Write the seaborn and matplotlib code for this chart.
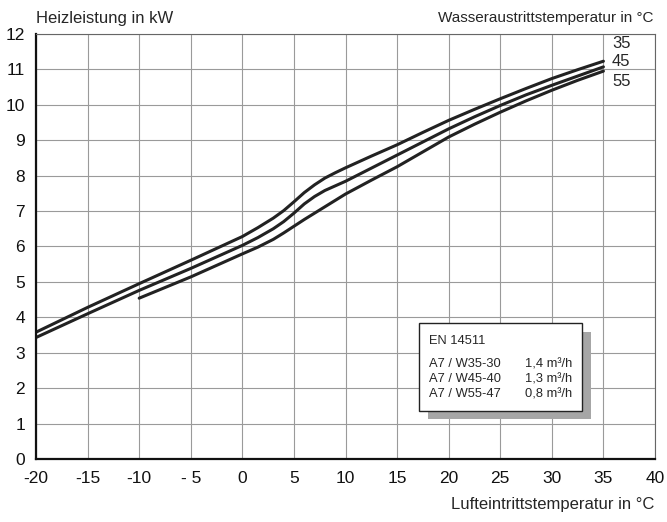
import pandas as pd
import seaborn as sns
import matplotlib
matplotlib.use("Agg")
import matplotlib.pyplot as plt
from matplotlib.patches import Rectangle
from matplotlib.ticker import MultipleLocator

# air inlet temp (x) vs heating output (kW)
x_35 = [-20, -15, -10, -5, 0, 1.5, 3, 4, 5, 6, 7, 8, 9, 10, 12.5, 15, 17.5, 20, 22.5, 25, 27.5, 30, 32.5, 35]
kw_35 = [3.58, 4.28, 4.95, 5.61, 6.28, 6.53, 6.80, 7.01, 7.26, 7.52, 7.74, 7.93, 8.08, 8.22,
         8.55, 8.87, 9.22, 9.56, 9.87, 10.17, 10.46, 10.74, 10.99, 11.23]
x_45 = [-20, -15, -10, -5, 0, 1.5, 3, 4, 5, 6, 7, 8, 9, 10, 12.5, 15, 17.5, 20, 22.5, 25, 27.5, 30, 32.5, 35]
kw_45 = [3.43, 4.10, 4.76, 5.38, 6.03, 6.25, 6.50, 6.70, 6.94, 7.20, 7.41, 7.58, 7.71, 7.84,
         8.21, 8.58, 8.95, 9.32, 9.66, 9.98, 10.28, 10.55, 10.81, 11.07]
x_55 = [-10, -5, 0, 1.5, 3, 4, 5, 6, 7, 8, 9, 10, 12.5, 15, 17.5, 20, 22.5, 25, 27.5, 30, 32.5, 35]
kw_55 = [4.54, 5.14, 5.79, 5.98, 6.20, 6.38, 6.57, 6.76, 6.94, 7.12, 7.30, 7.48,
         7.87, 8.25, 8.67, 9.09, 9.45, 9.79, 10.11, 10.41, 10.69, 10.95]

series = ["35", "45", "55"]
x_ticks = [-20, -15, -10, -5, 0, 5, 10, 15, 20, 25, 30, 35, 40]
x_labels = ["-20", "-15", "-10", "- 5", "0", "5", "10", "15", "20", "25", "30", "35", "40"]
y_ticks = list(range(0, 13))

box_title = "EN 14511"
box_rows = ["A7 / W35-30", "A7 / W45-40", "A7 / W55-47"]
box_flow = ["1,4 m³/h", "1,3 m³/h", "0,8 m³/h"]

df = pd.concat([
    pd.DataFrame({"x": x_35, "kw": kw_35, "w": "35"}),
    pd.DataFrame({"x": x_45, "kw": kw_45, "w": "45"}),
    pd.DataFrame({"x": x_55, "kw": kw_55, "w": "55"}),
])

sns.set_style("white")
plt.rcParams['font.family'] = ['Liberation Sans', 'DejaVu Sans']

fig = plt.figure(figsize=(6.67, 5.22), dpi=100)
ax = fig.add_axes([0.054, 0.1207, 0.928, 0.8143])

sns.lineplot(data=df, x="x", y="kw", hue="w", palette=["#222222"] * 3,
             linewidth=2.2, legend=False, ax=ax, estimator=None, sort=False)
for ln in ax.lines:
    ln.set_solid_joinstyle("round")

ax.set_xlim(-20, 40)
ax.set_ylim(0, 12)
ax.set_xticks(x_ticks)
ax.set_xticklabels(x_labels)
ax.set_yticks(y_ticks)
ax.xaxis.set_minor_locator(MultipleLocator(1))
ax.yaxis.set_minor_locator(MultipleLocator(0.2))
ax.tick_params(axis="both", which="major", direction="in", length=0, labelsize=12.5,
               colors="#111111", pad=8)
ax.tick_params(axis="both", which="minor", direction="in", length=3, color="#555555",
               width=0.6)
ax.tick_params(axis="x", pad=9)
ax.grid(True, which="major", color="#9a9a9a", linewidth=0.8)
ax.set_xlabel("")
ax.set_ylabel("")
for s in ["left", "bottom"]:
    ax.spines[s].set_color("#111111")
    ax.spines[s].set_linewidth(1.6)
for s in ["top", "right"]:
    ax.spines[s].set_color("#666666")
    ax.spines[s].set_linewidth(0.8)

# curve end labels
for name, py in zip(series, [44, 61, 81]):
    fig.text(612 / 667, 1 - py / 522, name, fontsize=12, va="center", ha="left")

fig.text(36 / 667, 1 - 18 / 522, "Heizleistung in kW", fontsize=12, va="center", ha="left")
fig.text(654 / 667, 1 - 18 / 522, "Wasseraustrittstemperatur in °C", fontsize=11,
         va="center", ha="right")
fig.text(654 / 667, 1 - 505 / 522, "Lufteintrittstemperatur in °C", fontsize=12,
         va="center", ha="right")

# info box with shadow
bx, by, bw, bh = 419 / 667, 1 - 410.7 / 522, 162.7 / 667, 87.4 / 522
fig.patches.append(Rectangle((bx + 9.3 / 667, by - 8.6 / 522), bw, bh, transform=fig.transFigure,
                             facecolor="#a6a6a6", edgecolor="none", zorder=5))
fig.patches.append(Rectangle((bx, by), bw, bh, transform=fig.transFigure,
                             facecolor="white", edgecolor="#222222", linewidth=1.0, zorder=6))
fig.text(429 / 667, 1 - 341 / 522, box_title, fontsize=9.3, va="center", ha="left", zorder=7)
for i, (r, f) in enumerate(zip(box_rows, box_flow)):
    yy = 1 - (364.3 + 15 * i) / 522
    fig.text(429 / 667, yy, r, fontsize=9.3, va="center", ha="left", zorder=7)
    fig.text(525 / 667, yy, f, fontsize=9.3, va="center", ha="left", zorder=7)

fig.savefig("out.png", dpi=100)
